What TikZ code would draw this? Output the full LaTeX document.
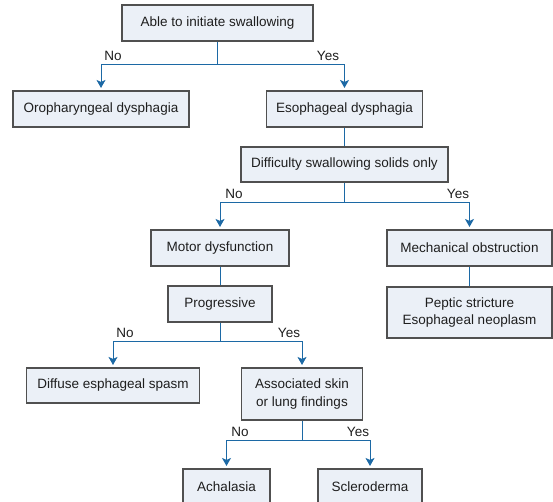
\documentclass[tikz,border=0pt]{standalone}
\usepackage{fontspec}
\setmainfont{Liberation Sans}
\usetikzlibrary{arrows.meta}
\definecolor{boxfill}{RGB}{235,240,247}
\definecolor{boxline}{RGB}{80,80,80}
\definecolor{conn}{RGB}{28,105,165}
\definecolor{txt}{RGB}{30,30,30}
\begin{document}
\begin{tikzpicture}[x=1pt,y=-1pt,
  box/.style={draw=boxline, fill=boxfill, line width=1.1pt, text=txt,
    font=\fontsize{13.5}{17.5}\selectfont, align=center, inner sep=0pt,
    minimum height=36pt},
  link/.style={draw=conn, line width=0.9pt},
  arr/.style={link, -{Stealth[length=8pt,width=9pt,inset=2pt]}, shorten >=2.5pt},
  lab/.style={font=\fontsize{13.5}{16}\selectfont, text=txt, inner sep=0pt}]
\useasboundingbox (0,0) rectangle (553,502);
% nodes
\node[box, minimum width=191pt] (a) at (217.5,23) {Able to initiate swallowing};
\node[box, minimum width=176pt] (oro) at (101,109) {Oropharyngeal dysphagia};
\node[box, minimum width=156pt] (eso) at (344.5,109) {Esophageal dysphagia};
\node[box, minimum width=207pt, minimum height=35pt] (diff) at (344.5,164.5) {Difficulty swallowing solids only};
\node[box, minimum width=138pt] (motor) at (220,248) {Motor dysfunction};
\node[box, minimum width=165pt] (mech) at (469.5,248) {Mechanical obstruction};
\node[box, minimum width=104pt] (prog) at (220,304) {Progressive};
\node[box, minimum width=165pt, minimum height=51pt] (pep) at (469.5,312.5) {Peptic stricture\\Esophageal neoplasm};
\node[box, minimum width=173pt, minimum height=35pt] (diffuse) at (113,385.5) {Diffuse esphageal spasm};
\node[box, minimum width=121pt, minimum height=52pt] (assoc) at (302,394) {Associated skin\\or lung findings};
\node[box, minimum width=87pt, minimum height=35pt] (ach) at (226.5,486.5) {Achalasia};
\node[box, minimum width=104pt, minimum height=35pt] (scl) at (370,486.5) {Scleroderma};
% split points
\coordinate (s1) at (217.5,64);
\coordinate (s2) at (344.5,202);
\coordinate (s3) at (220,341);
\coordinate (s4) at (302,440);
% connectors
\draw[link] (a) -- (s1);
\draw[arr] (s1) -| (oro);
\draw[arr] (s1) -| (eso);
\draw[link] (eso) -- (diff);
\draw[link] (diff) -- (s2);
\draw[arr] (s2) -| (motor);
\draw[arr] (s2) -| (mech);
\draw[link] (motor) -- (prog);
\draw[link] (mech) -- (pep);
\draw[link] (prog) -- (s3);
\draw[arr] (s3) -| (diffuse);
\draw[arr] (s3) -| (assoc);
\draw[link] (assoc) -- (s4);
\draw[arr] (s4) -| (ach);
\draw[arr] (s4) -| (scl);
% labels
\node[lab] (n1) at (113,56) {No};
\node[lab] (y1) at (328,56) {Yes};
\node[lab] (n2) at (234,194) {No};
\node[lab] (y2) at (458,194) {Yes};
\node[lab] (n3) at (125,333) {No};
\node[lab] (y3) at (289,333) {Yes};
\node[lab] (n4) at (240,432) {No};
\node[lab] (y4) at (358,432) {Yes};
\end{tikzpicture}
\end{document}
